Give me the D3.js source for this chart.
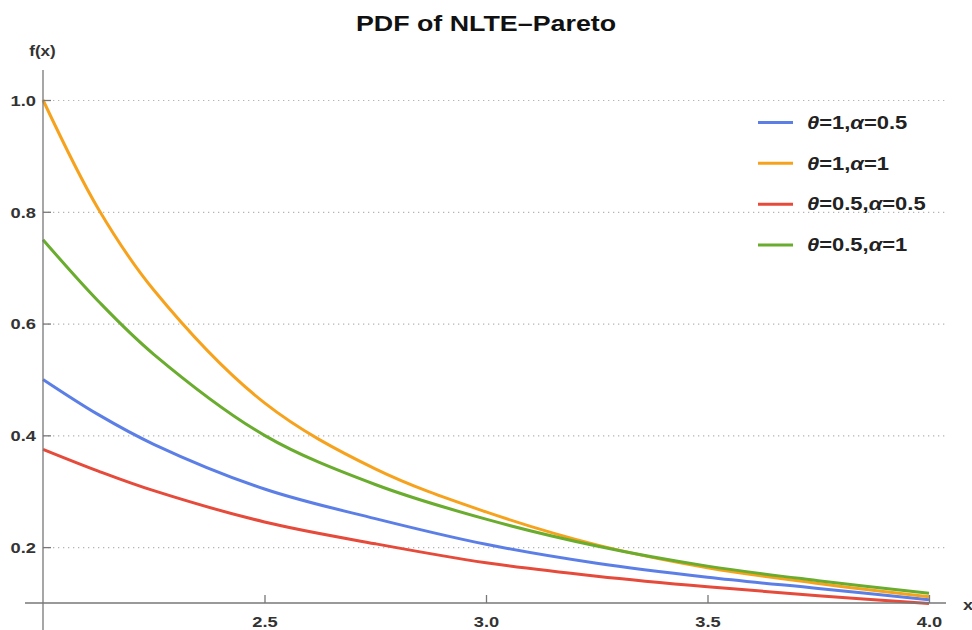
<!DOCTYPE html>
<html>
<head>
<meta charset="utf-8">
<script src="https://cdn.jsdelivr.net/npm/d3@7"></script>
<style>
  html, body { margin: 0; padding: 0; background: #fff; }
  svg { display: block; font-family: "Liberation Sans", Arial, sans-serif; }
</style>
</head>
<body>
<svg id="chart" width="972" height="630"></svg>
<script>
// ---- data ----
const xValues = [2, 2.125, 2.25, 2.5, 2.75, 3, 3.25, 3.5, 3.75, 4];
const theta1Alpha05 = [0.5, 0.437, 0.384, 0.304, 0.251, 0.205, 0.171, 0.146, 0.126, 0.106];
const theta1Alpha1 = [1.0, 0.805, 0.660, 0.458, 0.340, 0.263, 0.204, 0.163, 0.135, 0.111];
const theta05Alpha05 = [0.375, 0.336, 0.301, 0.245, 0.206, 0.172, 0.148, 0.129, 0.113, 0.099];
const theta05Alpha1 = [0.75, 0.640, 0.545, 0.400, 0.312, 0.250, 0.202, 0.166, 0.140, 0.1175];
const seriesNames = [
  [["θ", true], ["=1,", false], ["α", true], ["=0.5", false]],
  [["θ", true], ["=1,", false], ["α", true], ["=1", false]],
  [["θ", true], ["=0.5,", false], ["α", true], ["=0.5", false]],
  [["θ", true], ["=0.5,", false], ["α", true], ["=1", false]]
];
const seriesColors = ["#5b7fe6", "#f7a21c", "#e64a3a", "#6aac2e"];
const yTicks = [0.2, 0.4, 0.6, 0.8, 1.0];
const xTicks = [2.5, 3.0, 3.5, 4.0];
const titleText = "PDF of NLTE\u2013Pareto";

const allSeries = [theta1Alpha05, theta1Alpha1, theta05Alpha05, theta05Alpha1];

// ---- layout ----
const SX = 1.22; // horizontal glyph stretch seen in the reference
const svg = d3.select("#chart");
const x = d3.scaleLinear().domain([2, 4]).range([43, 929]);
const y = d3.scaleLinear().domain([0.1, 1.0]).range([603, 100]);
const gridRight = 946;
const axisColor = "#777";

// gridlines
const grid = svg.append("g").attr("transform", `translate(${x(2)},0)`)
  .call(d3.axisLeft(y).tickValues(yTicks).tickSize(-(gridRight - x(2))).tickFormat(""));
grid.select(".domain").remove();
grid.selectAll("line").attr("stroke", "#b4b4b4").attr("stroke-width", 1.2)
  .attr("stroke-dasharray", "1.3,3.7");

// curves
const line = d3.line().x((d, i) => x(xValues[i])).y(d => y(d)).curve(d3.curveCatmullRom.alpha(0.5));
allSeries.forEach((s, k) => {
  svg.append("path").datum(s).attr("d", line)
    .attr("fill", "none").attr("stroke", seriesColors[k]).attr("stroke-width", 3)
    .attr("stroke-linecap", "butt");
});

// axis lines (extended like the reference)
svg.append("line").attr("x1", x(2)).attr("x2", x(2)).attr("y1", 70).attr("y2", 630)
  .attr("stroke", axisColor).attr("stroke-width", 1.3);
svg.append("line").attr("x1", 25).attr("x2", gridRight).attr("y1", y(0.1)).attr("y2", y(0.1))
  .attr("stroke", axisColor).attr("stroke-width", 1.3);

// y axis ticks + labels
const yAx = svg.append("g").attr("transform", `translate(${x(2)},0)`)
  .call(d3.axisLeft(y).tickValues(yTicks).tickSizeInner(-8).tickSizeOuter(0)
    .tickPadding(0).tickFormat(d3.format(".1f")));
yAx.select(".domain").remove();
yAx.selectAll("line").attr("stroke", axisColor).attr("stroke-width", 1.3);
yAx.selectAll("text")
  .attr("x", -7 / SX).attr("dy", "0.35em")
  .attr("transform", `scale(${SX},1)`)
  .attr("font-size", 15).attr("font-weight", "bold").attr("fill", "#333");

// x axis ticks + labels
const xAx = svg.append("g").attr("transform", `translate(0,${y(0.1)})`)
  .call(d3.axisBottom(x).tickValues(xTicks).tickSizeInner(-8).tickSizeOuter(0)
    .tickPadding(0).tickFormat(d3.format(".1f")));
xAx.select(".domain").remove();
xAx.selectAll("line").attr("stroke", axisColor).attr("stroke-width", 1.3);
xAx.selectAll("text")
  .attr("y", 24).attr("dy", 0)
  .attr("transform", `scale(${SX},1)`)
  .attr("font-size", 15).attr("font-weight", "bold").attr("fill", "#333");

// axis labels
svg.append("text").attr("transform", `translate(42.5,56) scale(${SX},1)`)
  .attr("text-anchor", "middle").attr("font-size", 14).attr("font-weight", "bold")
  .attr("fill", "#333").text("f(x)");
svg.append("text").attr("transform", `translate(963,610) scale(${SX},1)`)
  .attr("font-size", 15).attr("font-weight", "bold").attr("fill", "#333").text("x");

// title
svg.append("text").attr("transform", `translate(486,31) scale(${SX},1)`)
  .attr("text-anchor", "middle").attr("font-size", 22).attr("font-weight", "bold")
  .attr("fill", "#111").text(titleText);

// legend
const legendY = d3.scalePoint().domain(d3.range(seriesNames.length)).range([122.5, 245]);
const leg = svg.append("g");
seriesNames.forEach((parts, k) => {
  const ly = legendY(k);
  leg.append("line").attr("x1", 758).attr("x2", 793).attr("y1", ly).attr("y2", ly)
    .attr("stroke", seriesColors[k]).attr("stroke-width", 3);
  const t = leg.append("text").attr("transform", `translate(807,${ly + 6.2}) scale(${SX},1)`)
    .attr("font-size", 18).attr("font-weight", "bold").attr("fill", "#222");
  parts.forEach(([txt, ital]) => {
    t.append("tspan").attr("font-style", ital ? "italic" : "normal").text(txt);
  });
});
</script>
</body>
</html>
